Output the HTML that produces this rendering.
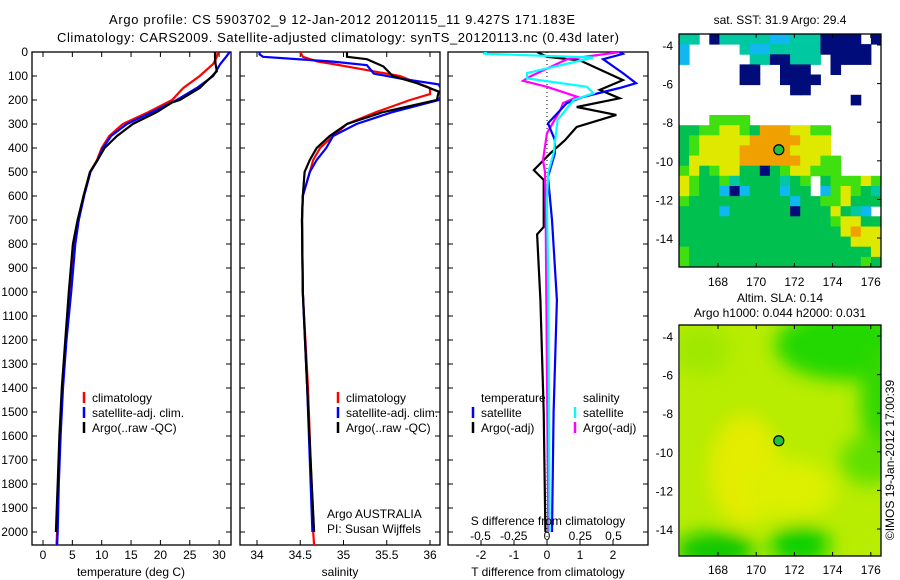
<!DOCTYPE html>
<html><head><meta charset="utf-8"><style>
body{margin:0;background:#fff;}
svg{display:block;font-family:"Liberation Sans",sans-serif;}
text{font-size:12px;fill:#000;}
</style></head><body>
<svg id="s" width="900" height="580" xmlns="http://www.w3.org/2000/svg">
<defs>
<clipPath id="c1"><rect x="32" y="52" width="199" height="493"/></clipPath>
<clipPath id="c2"><rect x="240" y="52" width="200" height="493"/></clipPath>
<clipPath id="c3"><rect x="448" y="52" width="200" height="493"/></clipPath>
<clipPath id="cm2"><rect x="680" y="325" width="201" height="231"/></clipPath>
<filter id="bl"><feGaussianBlur stdDeviation="9"/></filter>
</defs>
<text x="342" y="24" text-anchor="middle" style="font-size:13px" textLength="466">Argo profile: CS 5903702_9 12-Jan-2012 20120115_11 9.427S 171.183E</text>
<text x="338" y="42" text-anchor="middle" style="font-size:13px" textLength="562">Climatology: CARS2009. Satellite-adjusted climatology: synTS_20120113.nc (0.43d later)</text>
<g id="g1"></g>
<g id="g2"></g>
<g id="g3"></g>
<g id="m1"></g>
<g id="m2"></g>
<text transform="translate(894,460) rotate(-90)" text-anchor="middle">©IMOS 19-Jan-2012 17:00:39</text>
</svg>
<script>
// ---- data ----
const depthTicks=[0,100,200,300,400,500,600,700,800,900,1000,1100,1200,1300,1400,1500,1600,1700,1800,1900,2000];
const tempTicks=[0,5,10,15,20,25,30];
const salTicks=[34,34.5,35,35.5,36];
const tdiffTicks=[-2,-1,0,1,2];
const sdiffTicks=[-0.5,-0.25,0,0.25,0.5];
const sdiffLabels=["-0.5","-0.25","0","0.25","0.5"];
const tClimD=[0,20,50,100,150,200,250,300,350,400,450,500,600,700,800,1000,1200,1400,1600,1800,2000,2055];
const tClimV=[29.8,29.6,29.0,26.7,23.9,22.0,18.0,13.6,11.3,10.0,9.2,8.0,6.9,6.0,5.3,4.6,3.9,3.3,2.9,2.6,2.4,2.3];
const tSatD=[0,20,50,100,150,200,250,300,350,400,450,500,600,700,800,1000,1200,1400,1600,1800,2000,2055];
const tSatV=[31.8,31.2,30.2,29.0,26.2,22.8,18.6,14.3,11.6,10.2,9.3,8.1,7.0,6.1,5.5,4.8,4.0,3.4,3.0,2.7,2.5,2.4];
const tArgoD=[0,20,50,80,100,150,200,210,250,300,350,400,450,500,600,700,800,1000,1200,1400,1600,1800,2000];
const tArgoV=[29.3,29.3,29.4,29.6,28.8,26.7,23.3,22.0,19.4,15.3,12.6,10.5,9.3,8.0,6.9,5.9,5.1,4.4,3.8,3.2,2.8,2.5,2.2];
const sClimD=[0,20,40,50,100,150,175,200,250,300,350,400,450,500,600,700,1000,1400,1700,2000,2055];
const sClimV=[34.5,34.53,34.7,34.88,35.65,36.0,36.0,35.77,35.38,35.04,34.88,34.73,34.65,34.61,34.53,34.52,34.53,34.59,34.62,34.65,34.66];
const sSatD=[0,10,20,40,55,90,110,135,170,200,250,300,350,400,450,500,600,700,1000,1400,1700,2000];
const sSatV=[34.03,34.03,34.07,34.88,35.27,35.35,35.65,36.1,36.15,36.1,35.57,35.15,34.88,34.8,34.69,34.61,34.53,34.52,34.53,34.58,34.61,34.64];
const sArgoD=[0,20,30,60,100,130,165,200,250,300,350,400,450,500,600,700,1000,1400,1700,2000];
const sArgoV=[35.04,35.04,35.27,35.46,35.57,35.85,36.1,36.08,35.46,35.04,34.84,34.69,34.61,34.55,34.53,34.52,34.53,34.58,34.62,34.66];
const dtSatD=[0,8,30,88,130,150,187,213,297,367,422,520,700,1033,1500,2000];
const dtSatV=[2.2,2.3,1.7,2.3,2.7,2.2,1.1,0.6,0.03,0.24,0.24,0.03,0.15,0.3,0.2,0.15];
const dtArgoD=[0,20,35,117,158,193,229,262,312,367,422,492,533,729,760,1033,1500,2000];
const dtArgoV=[-0.3,0,1.0,2.3,1.6,2.2,0.9,2.1,0.9,0.55,0.1,-0.4,-0.1,-0.1,-0.3,-0.2,-0.1,-0.05];
const dsSatD=[0,7,23,88,110,145,172,200,283,422,500,617,1000,2000];
const dsSatV=[-0.45,-0.48,0.35,-0.15,-0.15,0.3,0.35,0.2,0.08,0.05,0.01,0,0.01,0.02];
const dsArgoD=[0,15,30,103,120,145,187,213,242,338,450,500,700,2000];
const dsArgoV=[0.55,0.35,0.15,-0.13,-0.18,0,0.23,0.12,0.1,0,-0.03,-0.015,-0.01,0.01];
const lonTicks=[168,170,172,174,176];
const latTicks=[-4,-6,-8,-10,-12,-14];
const argoLon=171.183, argoLat=-9.427;
const sstRows=["TTWNTTTTTCCTTTNNNNWN","CWWWWWTCCTTTTTNNNNNW","CWWWWWWTTNNTTTWNNNNW","WWWWWWNNWWNNNWWNWWWW","WWWWWWNNWWNNNNWWWWWW","WWWWWWWWWWWNNWWWWWWW","WWWWWWWWWWWWWWWWWNWW","WWWWWWWWWWWWWWWWWWWW","WWWLLLLWWWWWWWWWWWWW","GGLLYYLGOOOYYLLWWWWW","GLYYYYYOOOOOYYYWWWWW","GLYYYYOOOOOYYYYWWWWW","GYYYYYOOOOOOYYLLWWWW","LYGLYYGGNGLYYLLLWWWW","YLGGLTGGGGTGLWGLLLYL","YLGGCNCGGGCGGWCLYLGT","LGGGGGGGGGGCGGLLYGGG","GGGGCGGGGGGNGGGYGTCW","GGGGGGGGGGGGGGGLYYGG","GGGGGGGGGGGGGGGGYOYY","GGGGGGGGGGGGGGGGGYYY","LGGGGGGGGGGGGGGGGGGY","LGGGGGGGGGGGGGGGGGLG"];
const sstColors={W:"#ffffff",N:"#000c7a",T:"#00c8a0",C:"#10b8f0",G:"#00c050",L:"#40e010",Y:"#e0e800",O:"#f0a000"};

// ---- helpers ----
const NS="http://www.w3.org/2000/svg";
function mk(tag,attrs,parent){const e=document.createElementNS(NS,tag);for(const k in attrs)e.setAttribute(k,attrs[k]);parent.appendChild(e);return e;}
const yD=d=>52+d*0.24;
const xT=t=>43+t*5.87;
const xS=s=>257+(s-34)*86.5;
const xDT=d=>547+d*33;
const xDS=d=>547+d*133;
const lonX=l=>718+(l-168)*19.1;
const lat1=v=>45+(-4-v)*19.3;
const lat2=v=>336+(-4-v)*19.3;

function frame(g,x0,x1,labels){
  for(const d of depthTicks){const y=yD(d);
    let t=mk('line',{x1:x0,x2:x0+5,y1:y,y2:y,stroke:'#000'},g);
    
    mk('line',{x1:x1-5,x2:x1,y1:y,y2:y,stroke:'#000'},g);
    if(labels){const tx=mk('text',{x:28,y:y+4,'text-anchor':'end'},g);tx.textContent=d;
      }
  }
  const r=mk('rect',{x:x0,y:52,width:x1-x0,height:493,fill:'none',stroke:'#000','stroke-width':1.3},g);
  
}
function xticks(g,ticks,fx,labs,ly,top){
  ticks.forEach((v,i)=>{const x=fx(v);
    mk('line',{x1:x,x2:x,y1:540,y2:545,stroke:'#000'},g);
    if(top)mk('line',{x1:x,x2:x,y1:52,y2:57,stroke:'#000'},g);
    const t=mk('text',{x:x,y:ly,'text-anchor':'middle'},g);t.textContent=labs?labs[i]:v;
    });
}
function line(g,D,V,fx,color,name,clip){
  const p=D.map((d,i)=>fx(V[i]).toFixed(1)+','+yD(d).toFixed(1)).join(' ');
  const e=mk('polyline',{points:p,fill:'none',stroke:color,'stroke-width':2.2,'clip-path':'url(#'+clip+')'},g);
  
  
}
function legend(g,x,y,color,label){
  const b=mk('line',{x1:x,x2:x,y1:y-10,y2:y+1,stroke:color,'stroke-width':2.5},g);
  
  const t=mk('text',{x:x+8,y:y},g);t.textContent=label;
  
}
function txt(g,x,y,s,name,anchor){const t=mk('text',{x:x,y:y,'text-anchor':anchor||'start'},g);t.textContent=s;
  return t;}

// panel 1
const g1=document.getElementById('g1');
frame(g1,32,231,true);
xticks(g1,tempTicks,xT,null,559,true);
line(g1,tClimD,tClimV,xT,'#f00','temp-climatology-line','c1');
line(g1,tSatD,tSatV,xT,'#00f','temp-satellite-line','c1');
line(g1,tArgoD,tArgoV,xT,'#000','temp-argo-line','c1');
legend(g1,84,402,'#f00','climatology');
legend(g1,84,417,'#00f','satellite-adj. clim.');
legend(g1,84,432,'#000','Argo(..raw -QC)');
txt(g1,131,576,'temperature (deg C)','x-axis-title','middle');

// panel 2
const g2=document.getElementById('g2');
frame(g2,240,440,false);
xticks(g2,salTicks,xS,null,559,true);
line(g2,sClimD,sClimV,xS,'#f00','sal-climatology-line','c2');
line(g2,sSatD,sSatV,xS,'#00f','sal-satellite-line','c2');
line(g2,sArgoD,sArgoV,xS,'#000','sal-argo-line','c2');
legend(g2,338,402,'#f00','climatology');
legend(g2,338,417,'#00f','satellite-adj. clim.');
legend(g2,338,432,'#000','Argo(..raw -QC)');
txt(g2,327,518,'Argo AUSTRALIA','argo-program-label');
txt(g2,327,533,'PI: Susan Wijffels','pi-label');
txt(g2,340,576,'salinity','x-axis-title','middle');

// panel 3
const g3=document.getElementById('g3');
frame(g3,448,648,false);
xticks(g3,tdiffTicks,xDT,null,559,false);
sdiffTicks.forEach((v,i)=>{const t=txt(g3,xDS(v),540,sdiffLabels[i],'s-diff-tick-label','middle');});
const zl=mk('line',{x1:547,x2:547,y1:52,y2:545,stroke:'#000','stroke-dasharray':'1,3'},g3);

line(g3,dtArgoD,dtArgoV,xDT,'#000','tdiff-argo-line','c3');
line(g3,dsArgoD,dsArgoV,xDS,'#f0f','sdiff-argo-line','c3');
line(g3,dtSatD,dtSatV,xDT,'#00f','tdiff-satellite-line','c3');
line(g3,dsSatD,dsSatV,xDS,'#0ff','sdiff-satellite-line','c3');
txt(g3,481,402,'temperature','legend-heading-temperature');
txt(g3,583,402,'salinity','legend-heading-salinity');
legend(g3,473,417,'#00f','satellite');
legend(g3,473,432,'#000','Argo(-adj)');
legend(g3,575,417,'#0ff','satellite');
legend(g3,575,432,'#f0f','Argo(-adj)');
txt(g3,548,525,'S difference from climatology','s-diff-axis-title','middle');
txt(g3,548,576,'T difference from climatology','t-diff-axis-title','middle');

// map axes
function mapAxes(g,top,bot,latf,lonY){
  for(const l of lonTicks){const x=lonX(l);
    mk('line',{x1:x,x2:x,y1:top,y2:top+4,stroke:'#000'},g);mk('line',{x1:x,x2:x,y1:bot-4,y2:bot,stroke:'#000'},g);
    txt(g,x,lonY,String(l),'lon-tick-label','middle');}
  for(const v of latTicks){const y=latf(v);
    mk('line',{x1:877,x2:881,y1:y,y2:y,stroke:'#000'},g);
    txt(g,673,y+5,String(v),'lat-tick-label','end');}
  const r=mk('rect',{x:679,y:top,width:202,height:bot-top,fill:'none',stroke:'#000','stroke-width':1.3},g);
  
}
function dot(g,latf){const c=mk('circle',{cx:lonX(argoLon),cy:latf(argoLat),r:5,fill:'#20c040',stroke:'#000','stroke-width':1.2},g);
  }

const m1=document.getElementById('m1');
const cw=202/20, ch=233/23;
sstRows.forEach((row,r)=>{for(let c=0;c<row.length;c++){const col=sstColors[row[c]];if(row[c]==='W')continue;
  const e=mk('rect',{x:(679+c*cw).toFixed(1),y:(34+r*ch).toFixed(1),width:(cw+0.5).toFixed(1),height:(ch+0.5).toFixed(1),fill:col},m1);
  }});
dot(m1,lat1);
mapAxes(m1,34,267,lat1,286);
txt(m1,780,24,'sat. SST: 31.9 Argo: 29.4','sst-map-title','middle');

const m2=document.getElementById('m2');
const bg=mk('rect',{x:680,y:325,width:201,height:231,fill:'#b8ec00'},m2);

const blobs=mk('g',{'clip-path':'url(#cm2)'},m2);
const bb=mk('g',{filter:'url(#bl)'},blobs);
mk('ellipse',{cx:845,cy:345,rx:70,ry:35,fill:'#20d800'},bb);
mk('ellipse',{cx:885,cy:400,rx:25,ry:60,fill:'#30d800'},bb);
mk('ellipse',{cx:870,cy:460,rx:30,ry:25,fill:'#60e000'},bb);
mk('ellipse',{cx:800,cy:545,rx:30,ry:20,fill:'#10d000'},bb);
mk('ellipse',{cx:715,cy:550,rx:40,ry:18,fill:'#10c800'},bb);
mk('ellipse',{cx:745,cy:470,rx:35,ry:55,fill:'#e4ec00'},bb);
mk('ellipse',{cx:790,cy:490,rx:45,ry:30,fill:'#dcf000'},bb);
mk('ellipse',{cx:700,cy:350,rx:30,ry:25,fill:'#a0e800'},bb);
dot(m2,lat2);
mapAxes(m2,325,556,lat2,574);
txt(m2,780,302,'Altim. SLA: 0.14','sla-map-title','middle');
txt(m2,780,317,'Argo h1000: 0.044 h2000: 0.031','steric-height-label','middle');
</script>
</body></html>
